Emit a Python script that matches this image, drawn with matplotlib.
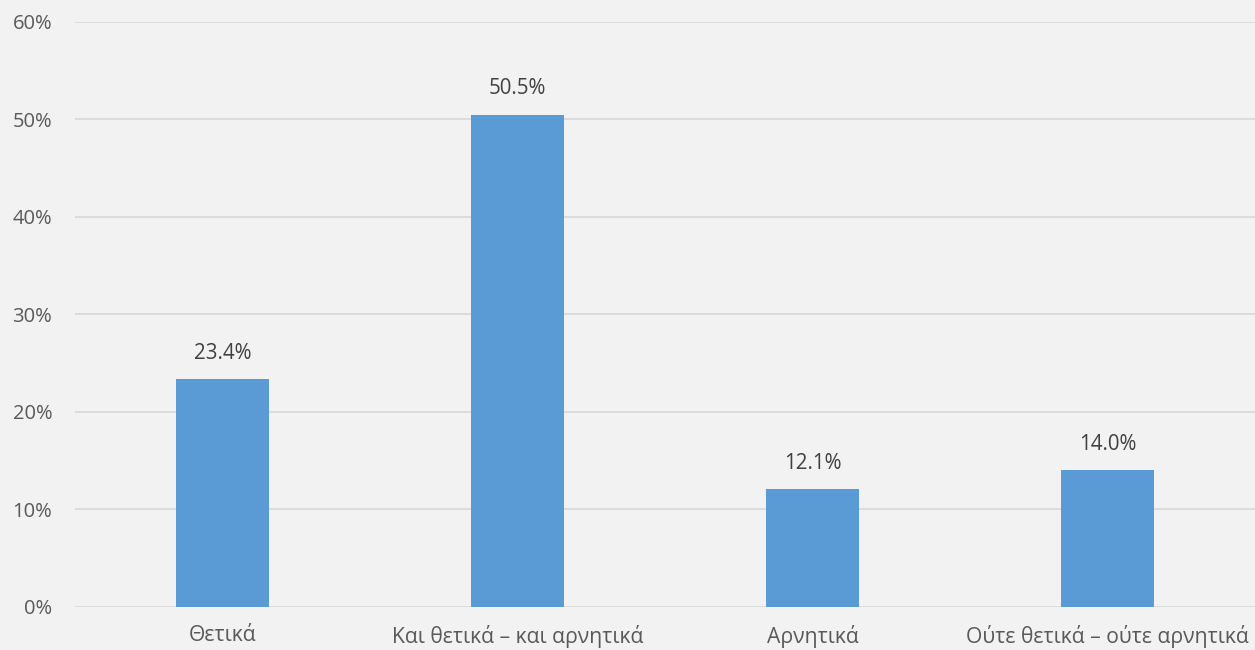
import matplotlib
matplotlib.use('Agg')
import matplotlib.pyplot as plt
from matplotlib.ticker import MultipleLocator, FuncFormatter

# responses share (%)
categories = ['Θετικά', 'Και θετικά – και αρνητικά', 'Αρνητικά', 'Ούτε θετικά – ούτε αρνητικά']
values = [23.4, 50.5, 12.1, 14.0]

plt.rcParams['font.family'] = ['Open Sans', 'DejaVu Sans']

fig = plt.figure(figsize=(12.55, 6.5), dpi=100, facecolor='#F2F2F2')
ax = fig.add_axes([0.0598, 0.0662, 0.9402, 0.9], facecolor='#F2F2F2')

x = range(len(categories))
bars = ax.bar(x, values, width=0.315, color='#5B9BD5', zorder=3)

# value labels above bars
for rect, v in zip(bars, values):
    ax.annotate(f'{v:.1f}%', (rect.get_x() + rect.get_width() / 2, v),
                xytext=(0, 11), textcoords='offset points',
                ha='center', va='bottom', fontsize=14.8, color='#404040')

ax.set_xlim(-0.5, len(categories) - 0.5)
ax.set_ylim(0, 60)
ax.yaxis.set_major_locator(MultipleLocator(10))
ax.yaxis.set_major_formatter(FuncFormatter(lambda v, p: f'{v:.0f}%'))
ax.set_xticks(list(x))
ax.set_xticklabels(categories)

ax.grid(axis='y', color='#D9D9D9', linewidth=1.3, zorder=0)
for s in ax.spines.values():
    s.set_visible(False)
ax.tick_params(axis='both', length=0, labelcolor='#595959')
ax.tick_params(axis='y', labelsize=14.5, pad=16.5)
ax.tick_params(axis='x', labelsize=15.2, pad=13)

fig.savefig('out.png', dpi=100, facecolor=fig.get_facecolor())
